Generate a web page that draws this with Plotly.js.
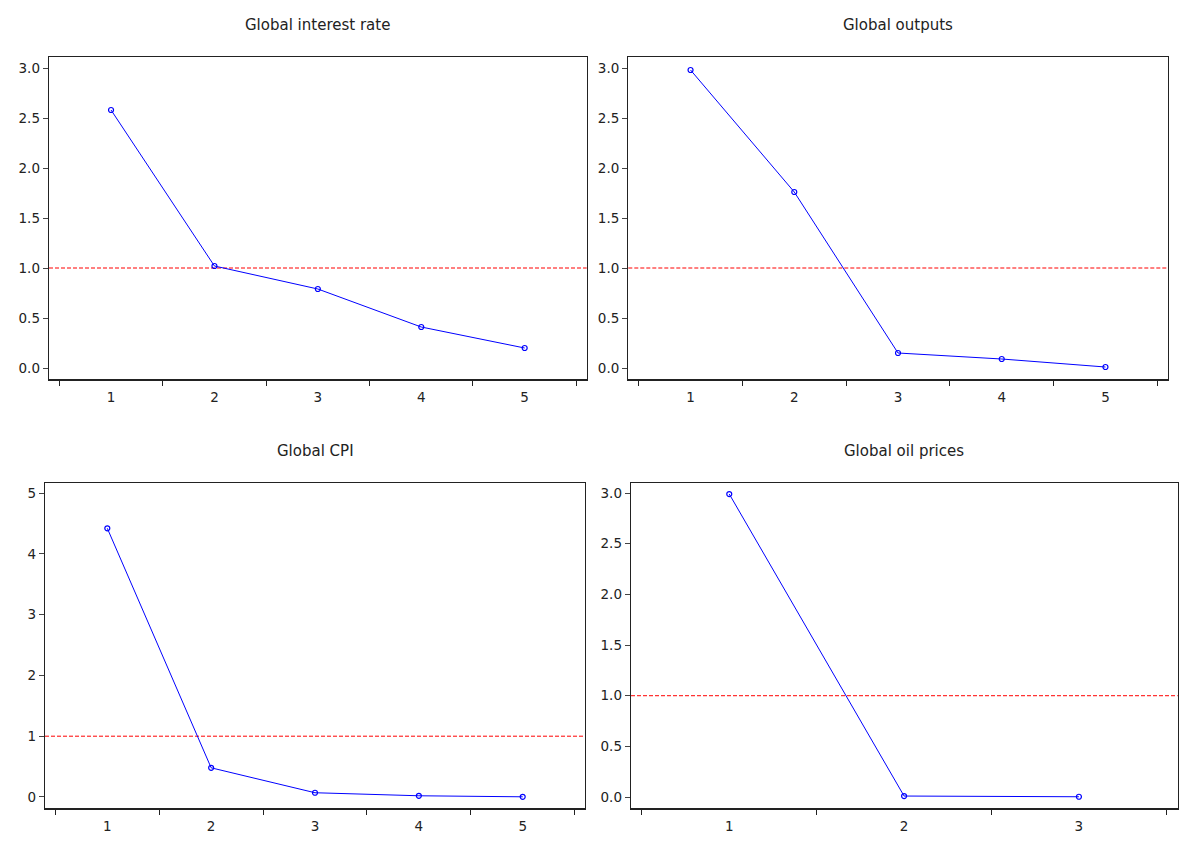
<!DOCTYPE html>
<html>
<head>
<meta charset="utf-8">
<script src="https://cdn.plot.ly/plotly-3.0.1.min.js"></script>
<style>html,body{margin:0;padding:0;background:#fff;}#chart{width:1184px;height:843px;}</style>
</head>
<body>
<div id="chart"></div>
<script>
// ---- data ----
const titles = ["Global interest rate", "Global outputs", "Global CPI", "Global oil prices"];
const xInterest = [1, 2, 3, 4, 5];
const yInterest = [2.58, 1.02, 0.79, 0.41, 0.20];
const xOutputs = [1, 2, 3, 4, 5];
const yOutputs = [2.98, 1.76, 0.15, 0.09, 0.01];
const xCPI = [1, 2, 3, 4, 5];
const yCPI = [4.42, 0.48, 0.07, 0.02, 0.003];
const xOil = [1, 2, 3];
const yOil = [2.99, 0.01, 0.003];
const threshold = 1;
const yTicks3 = [0, 0.5, 1, 1.5, 2, 2.5, 3];
const yTicks5 = [0, 1, 2, 3, 4, 5];

const xs = [xInterest, xOutputs, xCPI, xOil];
const ys = [yInterest, yOutputs, yCPI, yOil];

// ---- layout geometry (pixels -> paper) ----
const W = 1184, H = 843;
const boxes = [
  {l: 49, r: 586.7, t: 57, b: 379.3, xr: [0.4, 5.6], yr: [-0.113, 3.11], yt: yTicks3, fmt: ".1f"},
  {l: 628.3, r: 1167.7, t: 57, b: 379.3, xr: [0.4, 5.6], yr: [-0.113, 3.11], yt: yTicks3, fmt: ".1f"},
  {l: 45, r: 585, t: 483.3, b: 808.3, xr: [0.4, 5.6], yr: [-0.186, 5.16], yt: yTicks5, fmt: "d"},
  {l: 631, r: 1177.7, t: 483.3, b: 808.3, xr: [0.438, 3.565], yr: [-0.111, 3.096], yt: yTicks3, fmt: ".1f"}
];

const font = {family: "DejaVu Sans, Liberation Sans, sans-serif", size: 13.5, color: "#222"};
const data = [];
const layout = {
  width: W, height: H,
  margin: {l: 0, r: 0, t: 0, b: 0},
  paper_bgcolor: "#fff", plot_bgcolor: "#fff",
  showlegend: false,
  font: font,
  shapes: [], annotations: []
};

boxes.forEach((b, i) => {
  const n = i === 0 ? "" : String(i + 1);
  data.push({
    x: xs[i], y: ys[i], type: "scatter", mode: "lines+markers",
    xaxis: "x" + n, yaxis: "y" + n,
    line: {color: "#0000ff", width: 1},
    marker: {symbol: "circle-open", size: 5, color: "#0000ff", line: {width: 1.2}},
    hoverinfo: "x+y"
  });
  layout["xaxis" + n] = {
    domain: [b.l / W, b.r / W], range: b.xr, anchor: "y" + n,
    showgrid: false, zeroline: false,
    showline: true, mirror: true, linecolor: "#222", linewidth: 1.3,
    tickmode: "array", tickvals: xs[i], ticktext: xs[i].map(String),
    ticks: "outside", ticklen: 0, tickcolor: "#222",
    ticklabelstandoff: 5,
    minor: {ticks: "outside", ticklen: 5, tickcolor: "#222", tickwidth: 1, tickmode: "linear", tick0: 0.5, dtick: 1, showgrid: false},
    tickfont: font, fixedrange: true
  };
  layout["yaxis" + n] = {
    domain: [1 - b.b / H, 1 - b.t / H], range: b.yr, anchor: "x" + n,
    showgrid: false, zeroline: false,
    showline: true, mirror: true, linecolor: "#222", linewidth: 1.3,
    tickmode: "array", tickvals: b.yt, tickformat: b.fmt,
    ticks: "outside", ticklen: 5, tickcolor: "#444", tickwidth: 1,
    tickfont: font, fixedrange: true
  };
  layout.shapes.push({
    type: "line", xref: "x" + n + " domain", x0: 0, x1: 1,
    yref: "y" + n, y0: threshold, y1: threshold,
    line: {color: "#ff0000", width: 1, dash: "4px,2px"}, layer: "below"
  });
  layout.annotations.push({
    text: titles[i], xref: "paper", yref: "paper",
    x: ((b.l + b.r) / 2) / W, y: 1 - (i < 2 ? 25 : 451) / H,
    xanchor: "center", yanchor: "middle", showarrow: false,
    font: {family: font.family, size: 15, color: "#222"}
  });
});

Plotly.newPlot("chart", data, layout, {displayModeBar: false, staticPlot: true});
</script>
</body>
</html>
